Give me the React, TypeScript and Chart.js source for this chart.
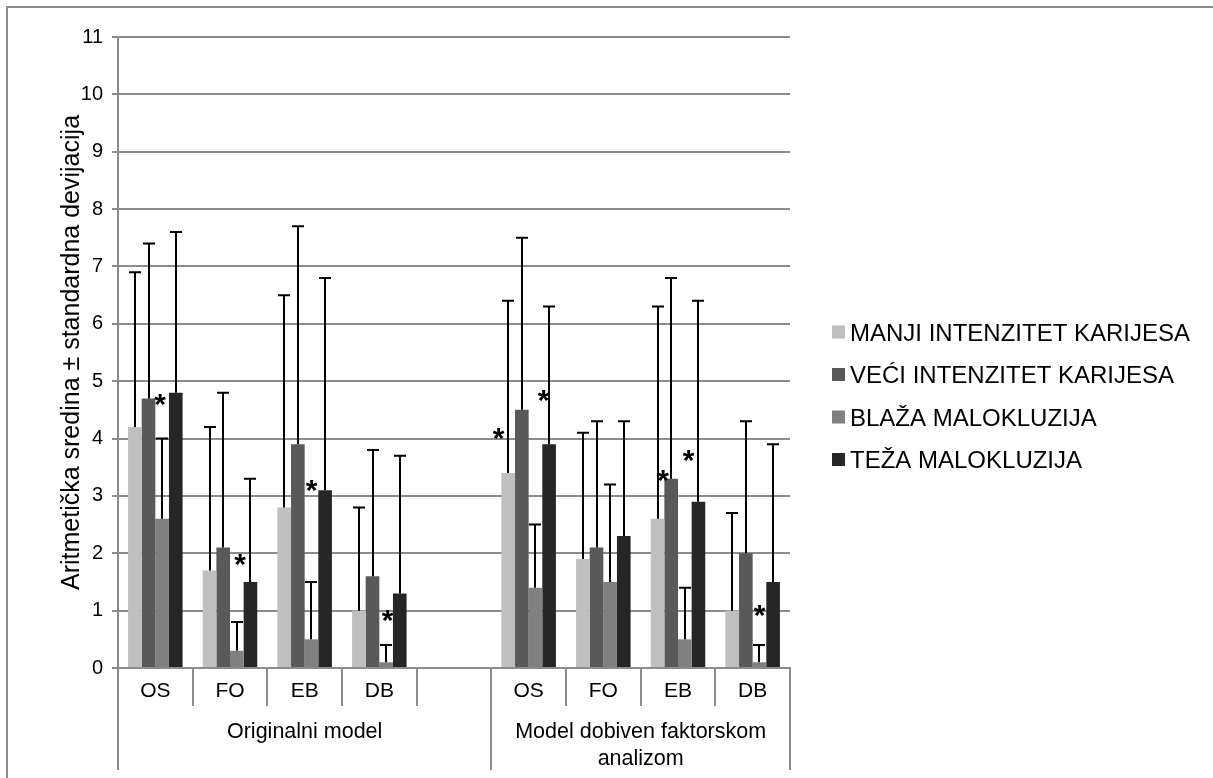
import React, { useEffect, useRef } from 'react';
import { Chart, registerables } from 'chart.js';

Chart.register(...registerables);

const FONT = '"Liberation Sans", Arial, Helvetica, sans-serif';

// ---- data ----
const categories = ['OS', 'FO', 'EB', 'DB', '', 'OS', 'FO', 'EB', 'DB'];
const groupLabels = [['Originalni model'], ['Model dobiven faktorskom', 'analizom']];
const groupStarts = [0, 5];
const groupEnds = [5, 9];

const seriesNames = ['MANJI INTENZITET KARIJESA', 'VEĆI INTENZITET KARIJESA', 'BLAŽA MALOKLUZIJA', 'TEŽA MALOKLUZIJA'];
const seriesColors = ['#bfbfbf', '#595959', '#808080', '#262626'];

const manjiMean = [4.2, 1.7, 2.8, 1.0, null, 3.4, 1.9, 2.6, 1.0];
const veciMean = [4.7, 2.1, 3.9, 1.6, null, 4.5, 2.1, 3.3, 2.0];
const blazaMean = [2.6, 0.3, 0.5, 0.1, null, 1.4, 1.5, 0.5, 0.1];
const tezaMean = [4.8, 1.5, 3.1, 1.3, null, 3.9, 2.3, 2.9, 1.5];

const manjiSD = [2.7, 2.5, 3.7, 1.8, null, 3.0, 2.2, 3.7, 1.7];
const veciSD = [2.7, 2.7, 3.8, 2.2, null, 3.0, 2.2, 3.5, 2.3];
const blazaSD = [1.4, 0.5, 1.0, 0.3, null, 1.1, 1.7, 0.9, 0.3];
const tezaSD = [2.8, 1.8, 3.7, 2.4, null, 2.4, 2.0, 3.5, 2.4];

// significance markers: category index, series index, shift in bar widths, value height
const starCategory = [0, 1, 2, 3, 5, 5, 7, 7, 8];
const starSeries = [2, 2, 2, 2, 0, 3, 0, 2, 2];
const starShift = [-0.15, 0.24, 0.0, 0.1, -0.71, -0.4, 0.4, 0.27, 0.0];
const starValue = [4.73, 1.94, 3.23, 0.96, 4.13, 4.8, 3.41, 3.76, 1.05];

const yTicksMax = 11;
const yTitle = 'Aritmetička sredina ± standardna devijacija';

const means = [manjiMean, veciMean, blazaMean, tezaMean];
const sds = [manjiSD, veciSD, blazaSD, tezaSD];

const GRID = '#8c8c8c';

const decorPlugin = {
  id: 'decor',
  beforeDraw(chart: any) {
    const ctx = chart.ctx;
    ctx.save();
    ctx.fillStyle = '#ffffff';
    ctx.fillRect(0, 0, chart.width, chart.height);
    ctx.strokeStyle = GRID;
    ctx.lineWidth = 2;
    ctx.beginPath();
    ctx.moveTo(7, chart.height);
    ctx.lineTo(7, 7);
    ctx.lineTo(chart.width, 7);
    ctx.stroke();
    ctx.restore();
  },
  afterDatasetsDraw(chart: any) {
    const ctx = chart.ctx;
    const y = chart.scales.y;
    ctx.save();
    // error bars (upper only)
    ctx.strokeStyle = '#000000';
    ctx.lineWidth = 2;
    means.forEach((m, si) => {
      const meta = chart.getDatasetMeta(si);
      meta.data.forEach((el: any, ci: number) => {
        const v = m[ci];
        const sd = sds[si][ci];
        if (v == null || sd == null) return;
        const top = y.getPixelForValue(v + sd);
        const x = Math.round(el.x);
        ctx.beginPath();
        ctx.moveTo(x, el.y);
        ctx.lineTo(x, top);
        ctx.moveTo(x - 6, top);
        ctx.lineTo(x + 6, top);
        ctx.stroke();
      });
    });
    // asterisks
    const size = 30;
    ctx.fillStyle = '#000000';
    ctx.font = `bold ${size}px ${FONT}`;
    ctx.textAlign = 'center';
    ctx.textBaseline = 'alphabetic';
    starCategory.forEach((ci, k) => {
      const el: any = chart.getDatasetMeta(starSeries[k]).data[ci];
      const x = el.x + starShift[k] * el.width;
      const py = y.getPixelForValue(starValue[k]);
      ctx.fillText('*', x, py + 0.58 * size);
    });
    ctx.restore();
  },
  afterDraw(chart: any) {
    const ctx = chart.ctx;
    const x = chart.scales.x;
    const y = chart.scales.y;
    const n = categories.length;
    const w = (x.right - x.left) / n;
    const base = y.bottom;
    ctx.save();
    ctx.strokeStyle = GRID;
    ctx.lineWidth = 2;
    for (let i = 0; i <= n; i++) {
      const px = Math.round(x.left + i * w);
      const long = groupStarts.includes(i) || groupEnds.includes(i);
      ctx.beginPath();
      ctx.moveTo(px, base);
      ctx.lineTo(px, long ? base + 102 : base + 38);
      ctx.stroke();
    }
    // group labels
    ctx.fillStyle = '#000000';
    ctx.font = `21.5px ${FONT}`;
    ctx.textAlign = 'center';
    ctx.textBaseline = 'alphabetic';
    groupLabels.forEach((lines, g) => {
      const cx = x.left + ((groupStarts[g] + groupEnds[g]) / 2) * w;
      lines.forEach((t, li) => {
        ctx.fillText(t, cx, base + 70 + li * 27);
      });
    });
    // legend
    const lsize = 24;
    ctx.font = `${lsize}px ${FONT}`;
    ctx.textAlign = 'left';
    chart.data.datasets.forEach((ds: any, i: number) => {
      const cy = 332 + i * 42.5;
      ctx.fillStyle = ds.backgroundColor;
      ctx.fillRect(832, cy - 6.5, 13, 13);
      ctx.fillStyle = '#000000';
      ctx.fillText(ds.label, 850, cy + 0.358 * lsize);
    });
    ctx.restore();
  },
};

export default function App() {
  const ref = useRef<HTMLCanvasElement | null>(null);
  useEffect(() => {
    if (!ref.current) return;
    const chart = new Chart(ref.current, {
      type: 'bar',
      data: {
        labels: categories,
        datasets: seriesNames.map((name, i) => ({
          label: name,
          data: means[i] as any,
          backgroundColor: seriesColors[i],
          borderWidth: 0,
          categoryPercentage: 0.73,
          barPercentage: 1.0,
        })),
      },
      options: {
        responsive: false,
        animation: false,
        devicePixelRatio: 1,
        layout: { padding: { left: 0, top: 37, right: 423, bottom: 70 } },
        plugins: {
          legend: { display: false },
          tooltip: { enabled: false },
        },
        scales: {
          x: {
            ticks: { color: '#000000', font: { family: FONT, size: 21 }, padding: 11, maxRotation: 0, autoSkip: false },
            grid: { display: false, drawTicks: false },
            border: { display: true, color: GRID, width: 2 },
            afterFit: (s: any) => { s.height = 40; },
          },
          y: {
            min: 0,
            max: yTicksMax,
            ticks: { stepSize: 1, color: '#000000', font: { family: FONT, size: 20 }, padding: 9 },
            grid: { color: GRID, lineWidth: 2, tickLength: 6, drawTicks: true },
            border: { display: true, color: GRID, width: 2 },
            title: {
              display: true,
              text: yTitle,
              color: '#000000',
              font: { family: FONT, size: 25, weight: 'normal' },
              padding: { top: 57, bottom: 0 },
            },
            afterFit: (s: any) => { s.width = 118; },
          },
        },
      },
      plugins: [decorPlugin],
    });
    return () => chart.destroy();
  }, []);
  return (
    <div style={{ position: 'absolute', left: 0, top: 0, width: 1213, height: 778 }}>
      <canvas ref={ref} width={1213} height={778} style={{ display: 'block' }} />
    </div>
  );
}
